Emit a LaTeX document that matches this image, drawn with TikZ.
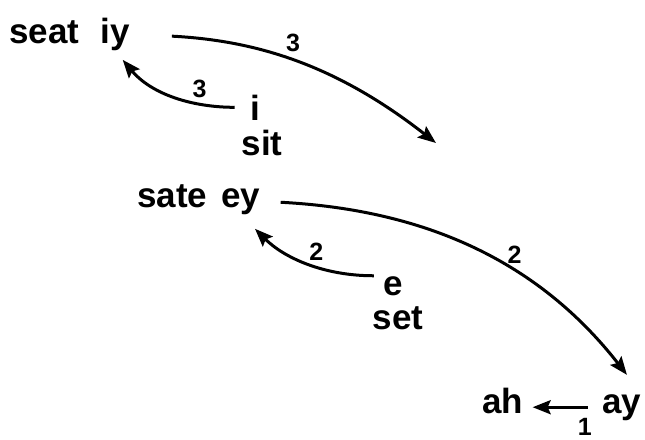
\documentclass[tikz,border=0pt]{standalone}
\usepackage{fontspec}
\setmainfont{Liberation Sans}
\usetikzlibrary{arrows.meta}

\begin{document}
\begin{tikzpicture}[
    x=0.5pt, y=0.5pt,
    word/.style={inner sep=0pt, font=\fontsize{17.5}{20}\selectfont\bfseries},
    num/.style={inner sep=1pt, font=\fontsize{12.5}{14}\selectfont\bfseries},
    arr/.style={-{Stealth[length=9pt, width=7pt, inset=1.5pt]}, line width=1.5pt, draw=black}
]
\useasboundingbox (0,0) rectangle (645,-440);

%% Words and vowels
\node[word, anchor=base west] (seat) at (9,-43)   {seat};
\node[word, anchor=base west] (iy)   at (100,-43) {iy};
\node[word, anchor=base]      (i)    at (255,-120) {i};
\node[word, anchor=base]      (sit)  at (262,-155) {sit};

\node[word, anchor=base west] (sate) at (137,-207) {sate};
\node[word, anchor=base west] (ey)   at (221,-207) {ey};
\node[word, anchor=base]      (e)    at (393,-295) {e};
\node[word, anchor=base]      (set)  at (398,-329) {set};

\node[word, anchor=base west] (ah)   at (482,-413) {ah};
\node[word, anchor=base west] (ay)   at (602,-413) {ay};

\coordinate (drop) at (436,-143);

%% iy -> down (3)
\draw[arr, shorten <=21pt]
    (iy.east)
    to[out=-3, in=142]
    node[num, above=3pt, pos=0.5] {3}
    (drop);

%% i -> iy (3)
\draw[arr, shorten <=7.5pt, shorten >=6pt]
    (i.west)
    to[out=180, in=-50]
    node[num, above=1pt, pos=0.32] {3}
    (iy.south);

%% ey -> ay (2)
\draw[arr, shorten <=10pt, shorten >=12pt]
    (ey.east)
    to[out=-3, in=128]
    node[num, above right=0pt, pos=0.58] {2}
    (ay.north east);

%% e -> ey (2)
\draw[arr, shorten <=4.5pt, shorten >=10pt]
    (e.north west)
    to[out=180, in=-45]
    node[num, above=1pt, pos=0.42] {2}
    (ey.south);

%% ay -> ah (1)
\draw[arr, shorten <=7pt, shorten >=4.5pt]
    (ay.west) --
    node[num, below=4pt, pos=0.22] {1}
    (ay.west -| ah.east);

\end{tikzpicture}
\end{document}
